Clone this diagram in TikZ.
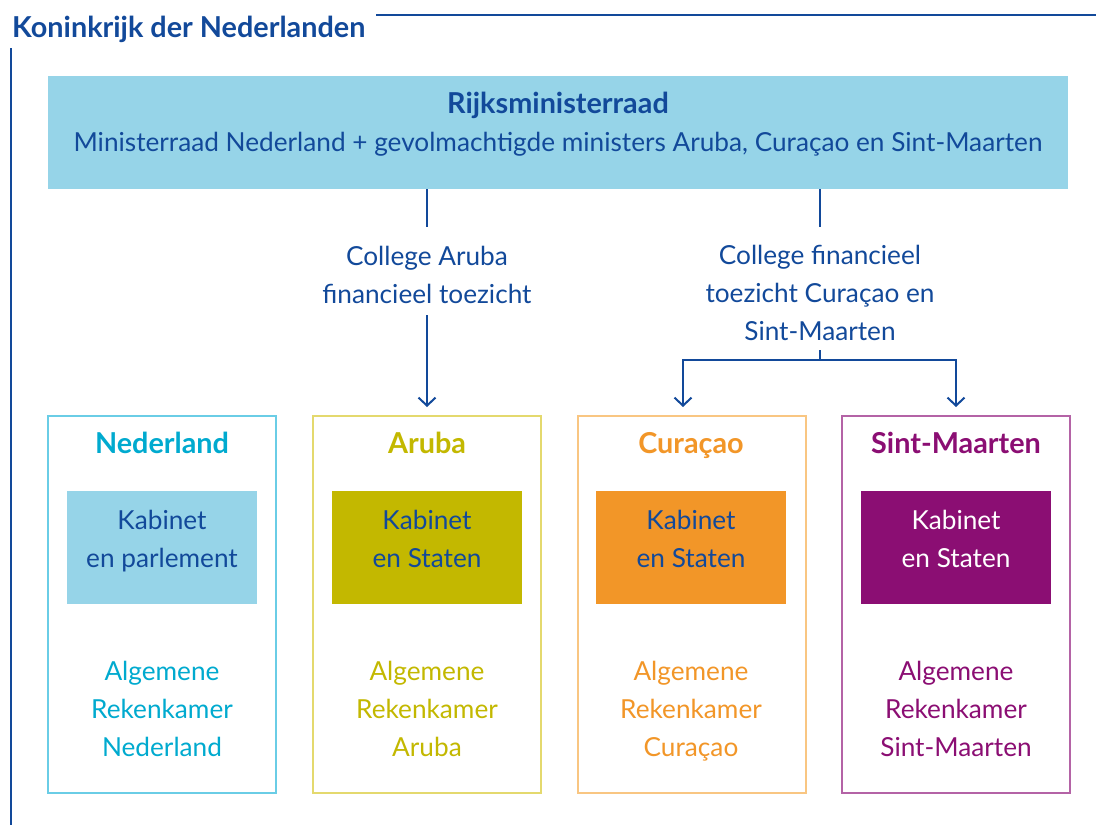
\documentclass[tikz,border=0pt]{standalone}
\usepackage{fontspec}
\setmainfont{Lato}
\usetikzlibrary{arrows.meta}
\definecolor{dblue}{HTML}{12499A}
\definecolor{lblue}{HTML}{96D4E8}
\definecolor{ncyan}{HTML}{00AACF}
\definecolor{nborder}{HTML}{6ACDE6}
\definecolor{aolive}{HTML}{C3B800}
\definecolor{aborder}{HTML}{E4D96E}
\definecolor{corange}{HTML}{F29628}
\definecolor{cborder}{HTML}{F9C682}
\definecolor{spurple}{HTML}{8B0E73}
\definecolor{sborder}{HTML}{B463A6}
\newcommand{\bfbig}{\fontsize{28.8}{38}\selectfont\bfseries}
\tikzset{
  txt/.style={font=\fontsize{26.2}{38}\selectfont, align=center, inner sep=0pt, anchor=base},
  ttl/.style={font=\bfbig, inner sep=0pt, anchor=base},
  conn/.style={draw=dblue, line width=2pt},
  arr/.style={conn, -{Straight Barb[length=8pt, width=17pt, line width=2pt]}},
  outerbox/.style={draw=#1, line width=1.4pt, fill=white},
}
\begin{document}
\begin{tikzpicture}[x=1pt, y=-1pt]
\useasboundingbox (0,0) rectangle (1096,825);
% frame
\coordinate (ft1) at (376,15);
\coordinate (ft2) at (1096,15);
\coordinate (fl1) at (11,48);
\coordinate (fl2) at (11,825);
\draw[dblue, line width=1.8pt] (ft1) -- (ft2);
\draw[dblue, line width=1.8pt] (fl1) -- (fl2);
\node[ttl, anchor=base west, text=dblue] (kon) at (12,37) {Koninkrijk der Nederlanden};
% top box
\fill[lblue] (48,76) rectangle (1068,189);
\node[txt, text=dblue] (rmr) at (558,151) {{\bfbig Rijksministerraad}\\Ministerraad Nederland + gevolmachtigde ministers Aruba, Curaçao en Sint-Maarten};
% college nodes
\node[txt, text=dblue] (cfta) at (427,303) {College Aruba\\financieel toezicht};
\node[txt, text=dblue] (cftc) at (820,340) {College financieel\\toezicht Curaçao en\\Sint-Maarten};
\coordinate (ta) at (427,189);
\coordinate (tab) at (427,227);
\coordinate (tc) at (820,189);
\coordinate (tcb) at (820,227);
\draw[conn] (ta) -- (tab);
\draw[conn] (tc) -- (tcb);
\coordinate (a1) at (427,315);
\coordinate (a2) at (427,407);
\draw[arr] (a1) -- (a2);
\coordinate (c1) at (820,350);
\coordinate (c2) at (820,360);
\coordinate (cl) at (683,360);
\coordinate (cr) at (956,360);
\coordinate (clb) at (683,407);
\coordinate (crb) at (956,407);
\draw[conn] (c1) -- (c2);
\draw[arr] (c2) -- (cl) -- (clb);
\draw[arr] (c2) -- (cr) -- (crb);
% bottom boxes
% Nederland
\draw[outerbox=nborder] (48,416) rectangle (276,793);
\fill[lblue] (67,491) rectangle (257,604);
\node[ttl, text=ncyan] (ned) at (162,453) {Nederland};
\node[txt, text=dblue] (nedk) at (162,567) {Kabinet\\en parlement};
\node[txt, text=ncyan] (neda) at (162,756) {Algemene\\Rekenkamer\\Nederland};
% Aruba
\draw[outerbox=aborder] (313,416) rectangle (541,793);
\fill[aolive] (332,491) rectangle (522,604);
\node[ttl, text=aolive] (aru) at (427,453) {Aruba};
\node[txt, text=dblue] (aruk) at (427,567) {Kabinet\\en Staten};
\node[txt, text=aolive] (arua) at (427,756) {Algemene\\Rekenkamer\\Aruba};
% Curacao
\draw[outerbox=cborder] (578,416) rectangle (806,793);
\fill[corange] (596,491) rectangle (786,604);
\node[ttl, text=corange] (cur) at (691,453) {Curaçao};
\node[txt, text=dblue] (curk) at (691,567) {Kabinet\\en Staten};
\node[txt, text=corange] (cura) at (691,756) {Algemene\\Rekenkamer\\Curaçao};
% Sint-Maarten
\draw[outerbox=sborder] (842,416) rectangle (1070,793);
\fill[spurple] (861,491) rectangle (1051,604);
\node[ttl, text=spurple] (sm) at (956,453) {Sint-Maarten};
\node[txt, text=white] (smk) at (956,567) {Kabinet\\en Staten};
\node[txt, text=spurple] (sma) at (956,756) {Algemene\\Rekenkamer\\Sint-Maarten};
\end{tikzpicture}
\end{document}
